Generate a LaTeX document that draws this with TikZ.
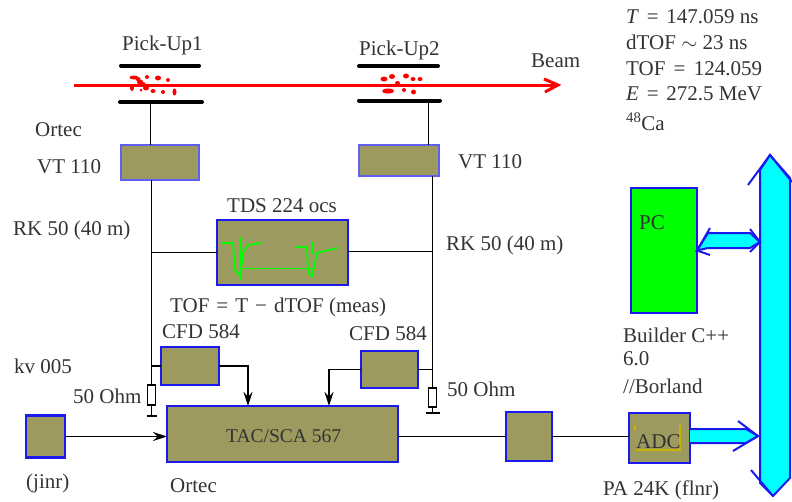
\documentclass[tikz,border=0pt]{standalone}
\usepackage{fontspec}
\setmainfont{Liberation Serif}
\usetikzlibrary{arrows.meta, calc}

\definecolor{olivebox}{HTML}{9C9A5E}
\definecolor{boxblue}{HTML}{1A1AEE}
\definecolor{labelgray}{HTML}{333333}
\definecolor{bracketyellow}{HTML}{C8B400}
\definecolor{buscyan}{HTML}{00FFFF}
\definecolor{pcgreen}{HTML}{00FF00}

\tikzset{
    module/.style={draw=boxblue, line width=2.4, fill=olivebox, inner sep=0, outer sep=0},
    thinmodule/.style={module, draw=boxblue!70, line width=1.2},
    label/.style={anchor=base west, inner sep=0, text=labelgray, font=\fontsize{21}{21}\selectfont},
    wire/.style={draw=black, line width=1.4},
    resistor/.style={draw=black, line width=1.2, fill=white, minimum width=8, minimum height=20, inner sep=0, outer sep=0},
    plate/.style={draw=black, line width=4, line cap=round},
    busline/.style={draw=boxblue, line width=2, fill=buscyan, line join=miter},
    barb/.style={draw=boxblue, line width=2},
    trace/.style={draw=pcgreen, line width=1.8}
}

\begin{document}
\begin{tikzpicture}[x=1pt, y=-1pt, >={Stealth[length=14pt, width=9pt]}]
        \useasboundingbox (0,0) rectangle (792,501);

        % pick-ups and beam
        \coordinate (plateAtl) at (121,65.5);
        \coordinate (plateAtr) at (199,65.5);
        \coordinate (plateAbl) at (120,102);
        \coordinate (plateAbr) at (202,102);
        \coordinate (plateBtl) at (359,66);
        \coordinate (plateBtr) at (438,66);
        \coordinate (plateBbl) at (359,100.5);
        \coordinate (plateBbr) at (440,100.5);
        \draw[plate] (plateAtl) -- (plateAtr);
        \draw[plate] (plateAbl) -- (plateAbr);
        \draw[plate] (plateBtl) -- (plateBtr);
        \draw[plate] (plateBbl) -- (plateBbr);

        \foreach \x/\y/\rx/\ry in {134/77.5/4.5/2, 138/79/2.5/2, 140/82/3/2.5, 143/84/2.5/2, 147/77/2/2, 158/78/3/2.5, 168/80/2/2,
            132/88/2/3, 141/90/1.5/1.5, 146/88/3/2.5, 153/91/2.5/2, 163/92/2/2, 174.5/92/2/3.5,
            384/79/3.5/2.5, 392/76.5/3/2.5, 406/76/3/2.5, 413/79/2.5/2, 420/79/2.5/2, 397.5/83/2.5/2,
            388/91/6/2.5, 404/90/2/2, 413.5/92/2.5/2.5}
            \fill[red] (\x,\y) ellipse ({\rx} and {\ry});

        \coordinate (beamStart) at (74,85);
        \coordinate (beamEnd) at (558,85);
        \draw[red, line width=3] (beamStart) -- (beamEnd);
        \draw[red, line width=3] (544,79) -- (beamEnd) -- (545,92);

        % modules
        \node[thinmodule, minimum width=78, minimum height=35] (vtA) at (160,162.5) {};
        \node[thinmodule, minimum width=80, minimum height=31] (vtB) at (399,160.5) {};
        \node[module, minimum width=131, minimum height=65] (tds) at (282.5,252.5) {};
        \node[module, minimum width=58, minimum height=38] (cfdA) at (190,366) {};
        \node[module, minimum width=57, minimum height=37] (cfdB) at (389.5,369.5) {};
        \node[module, minimum width=231, minimum height=56] (tac) at (282.5,434) {};
        \node[module, minimum width=39, minimum height=42] (jinr) at (45.5,436.5) {};
        \node[module, minimum width=46, minimum height=49] (amp) at (529,436.5) {};
        \node[module, minimum width=61, minimum height=50] (adc) at (659.5,438) {};
        \node[module, fill=pcgreen, minimum width=66, minimum height=125] (pc) at (664,250.5) {};

        \node[resistor] (resA) at (151.5,395) {};
        \node[resistor, minimum height=19] (resB) at (432.5,397.5) {};

        % junctions
        \coordinate (upA) at (150.5,102);
        \coordinate (upB) at (428.5,100.5);
        \coordinate (gndA) at (151.5,416);
        \coordinate (gndB) at (432.5,413);
        \coordinate (joinA) at (151.5,252.5);
        \coordinate (joinB) at (432.5,251.5);

        % wires
        \draw[wire] (upA) -- (upA |- vtA.north);
        \draw[wire] (upB) -- (upB |- vtB.north);
        \draw[wire] (joinA |- vtA.south) -- (resA.north);
        \draw[wire] (joinB |- vtB.south) -- (resB.north);
        \draw[wire] (joinA) -- (tds.west |- joinA);
        \draw[wire] (tds.east |- joinB) -- (joinB);
        \draw[wire] (cfdA.west) -- (cfdA.west -| joinA);
        \draw[wire] (cfdB.east) -- (cfdB.east -| joinB);
        \draw[wire] (resA.south) -- (gndA);
        \draw[wire] (resB.south) -- (gndB);
        \draw[wire] ($(gndA)+(-5,0)$) -- ($(gndA)+(5,0)$);
        \draw[wire] ($(gndB)+(-7,0)$) -- ($(gndB)+(7,0)$);

        \coordinate (tacInA) at (248,406);
        \coordinate (tacInB) at (329,406);
        \draw[wire, ->] (cfdA.east) -| (tacInA);
        \draw[wire, ->] (cfdB.west) -| (tacInB);
        \draw[wire, ->] (jinr.east) -- (tac.west |- jinr.east);
        \draw[wire] (tac.east |- amp.west) -- (amp.west);
        \draw[wire] (amp.east) -- (adc.west |- amp.east);

        % scope traces
        \draw[trace] (222,243) -- (233,243) -- (235,270) -- (240,276) -- (243,253) -- (248,245) -- (261,243);
        \draw[trace] (295,247) -- (307,247) -- (308,273) -- (312,276) -- (317,253) -- (337,248);
        \draw[trace] (242,268.5) -- (315,268.5);
        \draw[trace, line width=1] (240,237) -- (240,280);
        \draw[trace, line width=1] (312,242) -- (312,254);

        % adc mark
        \draw[bracketyellow, line width=1.5] (635,425) -- (635,430);
        \draw[bracketyellow, line width=2] (636,450) -- (680,450) -- (680,425);

        % bus
        \coordinate (busTop) at (770,155);
        \coordinate (busBottom) at (773,496);
        \filldraw[busline] (busTop) -- (790,178) -- (790,478) -- (busBottom) -- (760,483) -- (760,170) -- cycle;
        \draw[barb] (748,185) -- (busTop) -- (792,182);
        \draw[barb] (751,470) -- (busBottom);

        \coordinate (pcTip) at (760,242);
        \filldraw[busline] (pc.east) -- (708,233) -- (750,233) -- (pcTip) -- (750,248) -- (708,248) -- cycle;
        \draw[barb] (710,228) -- (pc.east) -- (710,255);
        \draw[barb] (750,229) -- (pcTip) -- (750,252);

        \coordinate (adcTip) at (758,436);
        \filldraw[busline] ($(adc.east)+(0,-9)$) -- (746,429) -- (adcTip) -- (746,443) -- ($(adc.east)+(0,5)$);
        \draw[barb] (738,421) -- (adcTip) -- (733,451);

        % labels
        \node[label] (lPickA) at (122,50) {Pick-Up1};
        \node[label] (lPickB) at (359,55) {Pick-Up2};
        \node[label] (lBeam) at (531,67) {Beam};
        \node[label] (lOrtecA) at (35,136) {Ortec};
        \node[label] (lVtA) at (37,173) {VT 110};
        \node[label] (lVtB) at (458,168) {VT 110};
        \node[label] (lRkA) at (13,235) {RK 50 (40 m)};
        \node[label] (lRkB) at (446,250) {RK 50 (40 m)};
        \node[label] (lTds) at (227,212) {TDS 224 ocs};
        \node[label] (lTof) at (170,312) {TOF\,\,=\,\,T\,\,−\,\,dTOF (meas)};
        \node[label] (lCfdA) at (162,338) {CFD 584};
        \node[label] (lCfdB) at (349,340) {CFD 584};
        \node[label] (lKv) at (14,373) {kv 005};
        \node[label] (lOhmA) at (73,403) {50 Ohm};
        \node[label] (lOhmB) at (447,396) {50 Ohm};
        \node[label] (lJinr) at (26,488) {(jinr)};
        \node[label] (lOrtecB) at (170,492) {Ortec};
        \node[label, font=\fontsize{19.5}{19.5}\selectfont] (lTac) at (226,442) {TAC/SCA 567};
        \node[label] (lPa) at (603,495) {PA 24K (flnr)};
        \node[label] (lAdc) at (636,448) {ADC};
        \node[label] (lPc) at (639,229) {PC};
        \node[label] (lBuilder) at (623,342) {Builder C++};
        \node[label] (lVer) at (623,365) {6.0};
        \node[label] (lBorland) at (623,393) {//Borland};
        \node[label] (lT) at (626,23) {\textit{T} \kern2.5pt= \kern2.5pt147.059 ns};
        \node[label] (lD) at (626,49) {dTOF $\sim$ 23 ns};
        \node[label] (lF) at (626,75) {TOF \kern3pt= \kern3pt124.059};
        \node[label] (lE) at (626,100) {\textit{E} \kern2.5pt= \kern2.5pt272.5 MeV};
        \node[label] (lCa) at (626,130) {\textsuperscript{48}Ca};
    \end{tikzpicture}
\end{document}
